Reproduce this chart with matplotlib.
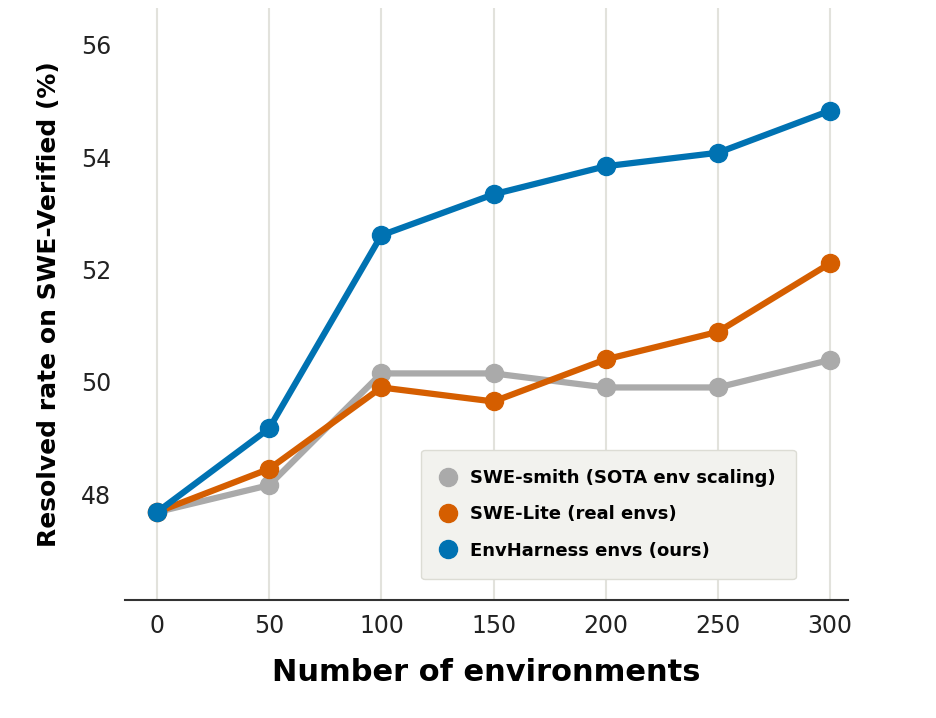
import matplotlib
matplotlib.use("Agg")
import matplotlib.pyplot as plt

envs = [0, 50, 100, 150, 200, 250, 300]
swe_smith = [47.68, 48.16, 50.15, 50.15, 49.9, 49.9, 50.39]
swe_lite = [47.68, 48.45, 49.9, 49.65, 50.4, 50.89, 52.11]
envharness = [47.68, 49.17, 52.61, 53.34, 53.84, 54.08, 54.83]

fig = plt.figure(figsize=(9.36, 7.18), dpi=100)
ax = fig.add_axes([0.1335, 0.164, 0.7725, 0.825])

ax.plot(envs, swe_smith, color="#aaaaaa", lw=4.5, marker="o", ms=13,
        label="SWE-smith (SOTA env scaling)", zorder=3)
ax.plot(envs, swe_lite, color="#D55E00", lw=4.5, marker="o", ms=13,
        label="SWE-Lite (real envs)", zorder=4)
ax.plot(envs, envharness, color="#0072B2", lw=4.5, marker="o", ms=13,
        label="EnvHarness envs (ours)", zorder=5)

ax.set_xlim(-14.3, 308)
ax.set_ylim(46.11, 56.66)
ax.set_xticks(envs)
ax.set_yticks([48, 50, 52, 54, 56])
ax.tick_params(axis="both", labelsize=17, length=0, pad=10, colors="#222222")
ax.grid(axis="x", color="#e2e2dc", lw=1.5)
ax.set_axisbelow(True)
for s in ["top", "right", "left"]:
    ax.spines[s].set_visible(False)
ax.spines["bottom"].set_linewidth(1.5)
ax.spines["bottom"].set_color("#333333")

ax.set_xlabel("Number of environments", fontsize=22, fontweight="bold", labelpad=14)
ax.set_ylabel("Resolved rate on SWE-Verified (%)", fontsize=18, fontweight="bold", labelpad=14)

leg = ax.legend(loc="lower right", bbox_to_anchor=(0.94, 0.02), prop={"weight": "bold", "size": 13},
                facecolor="#f2f2ee", edgecolor="#dcdcd4", framealpha=1, fancybox=True,
                borderpad=1.1, labelspacing=1.0, handlelength=0.8, markerscale=1.0)
for h in leg.legend_handles:
    h.set_linestyle("none")

fig.savefig("out.png", dpi=100)
